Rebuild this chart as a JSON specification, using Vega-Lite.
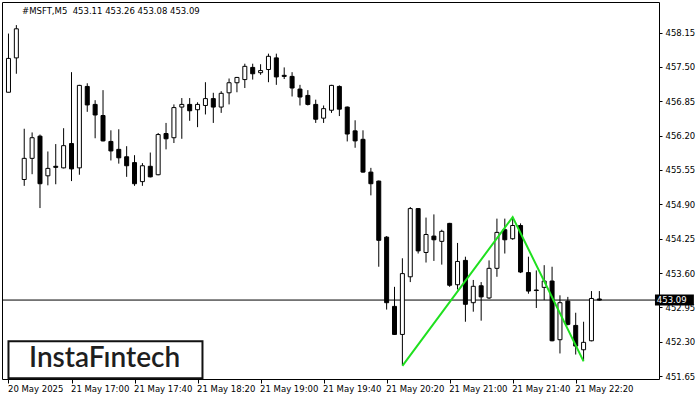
{
  "$schema": "https://vega.github.io/schema/vega-lite/v6.json",
  "width": 657,
  "height": 377,
  "autosize": {"type": "none"},
  "padding": {"left": 2, "top": 2, "right": 41, "bottom": 21},
  "background": "white",
  "config": {"view": {"stroke": "black", "strokeWidth": 1}, "font": "DejaVu Sans", "axis": {"labelOverlap": false, "labelBound": false}},
  "datasets": {
    "candles": [
      {"i":0,"open":457.02,"high":458.13,"low":457.02,"close":457.66},
      {"i":1,"open":457.67,"high":458.29,"low":457.37,"close":458.22},
      {"i":2,"open":455.37,"high":456.33,"low":455.25,"close":455.77},
      {"i":3,"open":455.77,"high":456.26,"low":455.47,"close":456.16},
      {"i":4,"open":456.19,"high":456.22,"low":454.83,"close":455.29},
      {"i":5,"open":455.44,"high":455.90,"low":455.26,"close":455.58},
      {"i":6,"open":455.62,"high":456.04,"low":455.28,"close":455.60},
      {"i":7,"open":455.59,"high":456.34,"low":455.58,"close":456.01},
      {"i":8,"open":456.05,"high":457.40,"low":455.34,"close":455.57},
      {"i":9,"open":455.59,"high":457.16,"low":455.46,"close":457.15},
      {"i":10,"open":457.13,"high":457.19,"low":456.65,"close":456.78},
      {"i":11,"open":456.79,"high":456.87,"low":456.15,"close":456.59},
      {"i":12,"open":456.58,"high":457.06,"low":456.09,"close":456.10},
      {"i":13,"open":456.09,"high":456.30,"low":455.73,"close":455.91},
      {"i":14,"open":455.94,"high":456.32,"low":455.67,"close":455.78},
      {"i":15,"open":455.80,"high":456.00,"low":455.42,"close":455.63},
      {"i":16,"open":455.69,"high":455.83,"low":455.25,"close":455.29},
      {"i":17,"open":455.33,"high":455.68,"low":455.25,"close":455.63},
      {"i":18,"open":455.62,"high":455.88,"low":455.41,"close":455.42},
      {"i":19,"open":455.46,"high":456.25,"low":455.45,"close":456.22},
      {"i":20,"open":456.24,"high":456.44,"low":455.94,"close":456.14},
      {"i":21,"open":456.16,"high":456.79,"low":456.06,"close":456.73},
      {"i":22,"open":456.74,"high":456.91,"low":456.14,"close":456.79},
      {"i":23,"open":456.79,"high":456.91,"low":456.48,"close":456.67},
      {"i":24,"open":456.69,"high":456.83,"low":456.36,"close":456.79},
      {"i":25,"open":456.77,"high":457.21,"low":456.60,"close":456.90},
      {"i":26,"open":456.90,"high":457.01,"low":456.44,"close":456.74},
      {"i":27,"open":456.74,"high":457.04,"low":456.63,"close":457.00},
      {"i":28,"open":457.01,"high":457.28,"low":456.79,"close":457.20},
      {"i":29,"open":457.20,"high":457.31,"low":457.02,"close":457.30},
      {"i":30,"open":457.26,"high":457.56,"low":457.10,"close":457.51},
      {"i":31,"open":457.49,"high":457.56,"low":457.26,"close":457.37},
      {"i":32,"open":457.39,"high":457.55,"low":457.35,"close":457.43},
      {"i":33,"open":457.45,"high":457.75,"low":457.21,"close":457.70},
      {"i":34,"open":457.67,"high":457.75,"low":457.16,"close":457.31},
      {"i":35,"open":457.34,"high":457.49,"low":457.27,"close":457.32},
      {"i":36,"open":457.32,"high":457.40,"low":456.94,"close":457.10},
      {"i":37,"open":457.08,"high":457.16,"low":456.77,"close":456.93},
      {"i":38,"open":456.96,"high":457.06,"low":456.77,"close":456.79},
      {"i":39,"open":456.79,"high":456.88,"low":456.44,"close":456.51},
      {"i":40,"open":456.53,"high":456.77,"low":456.44,"close":456.71},
      {"i":41,"open":456.68,"high":457.16,"low":456.63,"close":457.15},
      {"i":42,"open":457.13,"high":457.15,"low":456.57,"close":456.70},
      {"i":43,"open":456.74,"high":456.75,"low":456.09,"close":456.23},
      {"i":44,"open":456.29,"high":456.49,"low":455.97,"close":456.10},
      {"i":45,"open":456.13,"high":456.30,"low":455.50,"close":455.51},
      {"i":46,"open":455.51,"high":455.59,"low":455.07,"close":455.29},
      {"i":47,"open":455.34,"high":455.35,"low":453.72,"close":454.22},
      {"i":48,"open":454.28,"high":454.30,"low":452.91,"close":453.04},
      {"i":49,"open":452.97,"high":453.34,"low":452.43,"close":452.44},
      {"i":50,"open":452.44,"high":453.88,"low":451.86,"close":453.59},
      {"i":51,"open":453.53,"high":454.85,"low":453.43,"close":454.82},
      {"i":52,"open":454.82,"high":454.83,"low":453.97,"close":454.02},
      {"i":53,"open":453.99,"high":454.65,"low":453.80,"close":454.33},
      {"i":54,"open":454.30,"high":454.71,"low":453.83,"close":454.23},
      {"i":55,"open":454.20,"high":454.42,"low":453.76,"close":454.39},
      {"i":56,"open":454.54,"high":454.55,"low":453.34,"close":453.37},
      {"i":57,"open":453.38,"high":454.17,"low":453.29,"close":453.82},
      {"i":58,"open":453.84,"high":453.91,"low":452.68,"close":453.01},
      {"i":59,"open":453.04,"high":453.47,"low":452.87,"close":453.35},
      {"i":60,"open":453.36,"high":453.43,"low":452.70,"close":453.15},
      {"i":61,"open":453.13,"high":453.84,"low":453.11,"close":453.69},
      {"i":62,"open":453.69,"high":454.63,"low":453.53,"close":454.37},
      {"i":63,"open":454.42,"high":454.63,"low":453.97,"close":454.23},
      {"i":64,"open":454.25,"high":454.66,"low":454.23,"close":454.50},
      {"i":65,"open":454.50,"high":454.54,"low":453.60,"close":453.62},
      {"i":66,"open":453.61,"high":453.91,"low":453.21,"close":453.26},
      {"i":67,"open":453.28,"high":453.65,"low":452.94,"close":453.27},
      {"i":68,"open":453.33,"high":453.75,"low":453.09,"close":453.45},
      {"i":69,"open":453.45,"high":453.72,"low":452.31,"close":452.32},
      {"i":70,"open":452.34,"high":453.18,"low":452.08,"close":453.04},
      {"i":71,"open":453.07,"high":453.15,"low":452.61,"close":452.63},
      {"i":72,"open":452.61,"high":452.85,"low":452.06,"close":452.22},
      {"i":73,"open":452.15,"high":452.68,"low":451.95,"close":452.29},
      {"i":74,"open":452.32,"high":453.26,"low":452.31,"close":453.12},
      {"i":75,"open":453.11,"high":453.26,"low":453.08,"close":453.09}
    ],
    "pattern": [
      {"i":50,"price":451.845},
      {"i":64,"price":454.66},
      {"i":73,"price":451.93}
    ],
    "last": [{"price":453.09,"label":"453.09"}],
    "logo": [{"name":"InstaFıntech"}],
    "header": [{"text":"#MSFT,M5\u00a0\u00a0453.11 453.26 453.08 453.09"}]
  },
  "layer": [
    {
      "data": {"name": "candles"},
      "mark": {"type": "rule", "color": "black", "strokeWidth": 1},
      "encoding": {
        "x": {"field": "i", "type": "quantitative", "scale": {"domain": [-0.1875, 81.9375], "nice": false, "zero": false},
          "axis": {"values": [0,8,16,24,32,40,48,56,64,72], "tickCount": 40, "labelExpr": "['20 May 2025','21 May 17:00','21 May 17:40','21 May 18:20','21 May 19:00','21 May 19:40','21 May 20:20','21 May 21:00','21 May 21:40','21 May 22:20'][round(datum.value/8)]",
            "title": null, "domain": false, "grid": false, "ticks": true, "tickSize": 4, "tickColor": "black", "labelAlign": "left", "labelBaseline": "top", "labelPadding": 1, "labelOffset": -1, "labelFontSize": 8.5, "labelFont": "DejaVu Sans", "labelColor": "black", "labelFlush": false, "labelOverlap": false}},
        "y": {"field": "low", "type": "quantitative", "scale": {"domain": [451.597, 458.727], "nice": false, "zero": false},
          "axis": {"orient": "right", "values": [451.65,452.30,452.95,453.60,454.25,454.90,455.55,456.20,456.85,457.50,458.15], "tickCount": 40, "format": ".2f",
            "title": null, "domain": false, "grid": false, "ticks": true, "tickSize": 3, "tickColor": "black", "labelPadding": 3, "labelFontSize": 8.5, "labelFont": "DejaVu Sans", "labelColor": "black", "labelBaseline": "middle", "labelFlush": false, "labelOverlap": false}},
        "y2": {"field": "high"}
      }
    },
    {
      "data": {"name": "last"},
      "mark": {"type": "rule", "color": "black", "strokeWidth": 1},
      "encoding": {
        "y": {"field": "price", "type": "quantitative", "scale": {"domain": [451.597, 458.727], "nice": false, "zero": false}}
      }
    },
    {
      "data": {"name": "candles"},
      "mark": {"type": "bar", "size": 4, "stroke": "black", "strokeWidth": 1},
      "encoding": {
        "x": {"field": "i", "type": "quantitative", "scale": {"domain": [-0.1875, 81.9375], "nice": false, "zero": false}},
        "y": {"field": "open", "type": "quantitative", "scale": {"domain": [451.597, 458.727], "nice": false, "zero": false}},
        "y2": {"field": "close"},
        "fill": {"condition": {"test": "datum.close >= datum.open", "value": "white"}, "value": "black"}
      }
    },
    {
      "data": {"name": "pattern"},
      "mark": {"type": "line", "color": "#1fe01f", "strokeWidth": 2},
      "encoding": {
        "x": {"field": "i", "type": "quantitative", "scale": {"domain": [-0.1875, 81.9375], "nice": false, "zero": false}},
        "y": {"field": "price", "type": "quantitative", "scale": {"domain": [451.597, 458.727], "nice": false, "zero": false}}
      }
    },
    {
      "data": {"name": "logo"},
      "mark": {"type": "rect", "fill": "white", "stroke": "#111111", "strokeWidth": 2},
      "encoding": {
        "x": {"datum": 0, "type": "quantitative", "scale": {"domain": [-0.1875, 81.9375], "nice": false, "zero": false}},
        "x2": {"datum": 24.625},
        "y": {"datum": 452.31, "type": "quantitative", "scale": {"domain": [451.597, 458.727], "nice": false, "zero": false}},
        "y2": {"datum": 451.61}
      }
    },
    {
      "data": {"name": "logo"},
      "mark": {"type": "text", "font": "Lato", "fontSize": 28, "fontWeight": 600, "color": "#1e1e1e", "align": "center", "baseline": "middle"},
      "encoding": {
        "x": {"datum": 12.2, "type": "quantitative", "scale": {"domain": [-0.1875, 81.9375], "nice": false, "zero": false}},
        "y": {"datum": 451.97, "type": "quantitative", "scale": {"domain": [451.597, 458.727], "nice": false, "zero": false}},
        "text": {"field": "name"}
      }
    },
    {
      "data": {"name": "header"},
      "mark": {"type": "text", "font": "DejaVu Sans", "fontSize": 8.5, "color": "black", "align": "left", "baseline": "middle"},
      "encoding": {
        "x": {"datum": 1.725, "type": "quantitative", "scale": {"domain": [-0.1875, 81.9375], "nice": false, "zero": false}},
        "y": {"datum": 458.55, "type": "quantitative", "scale": {"domain": [451.597, 458.727], "nice": false, "zero": false}},
        "text": {"field": "text"}
      }
    },
    {
      "data": {"name": "last"},
      "mark": {"type": "rect", "fill": "black"},
      "encoding": {
        "x": {"datum": 82.06, "type": "quantitative", "scale": {"domain": [-0.1875, 81.9375], "nice": false, "zero": false}},
        "x2": {"datum": 87.0},
        "y": {"datum": 453.195, "type": "quantitative", "scale": {"domain": [451.597, 458.727], "nice": false, "zero": false}},
        "y2": {"datum": 452.985}
      }
    },
    {
      "data": {"name": "last"},
      "mark": {"type": "text", "font": "DejaVu Sans", "fontSize": 8.5, "color": "white", "align": "left", "baseline": "middle"},
      "encoding": {
        "x": {"datum": 82.3, "type": "quantitative", "scale": {"domain": [-0.1875, 81.9375], "nice": false, "zero": false}},
        "y": {"field": "price", "type": "quantitative", "scale": {"domain": [451.597, 458.727], "nice": false, "zero": false}},
        "text": {"field": "label"}
      }
    }
  ]
}
